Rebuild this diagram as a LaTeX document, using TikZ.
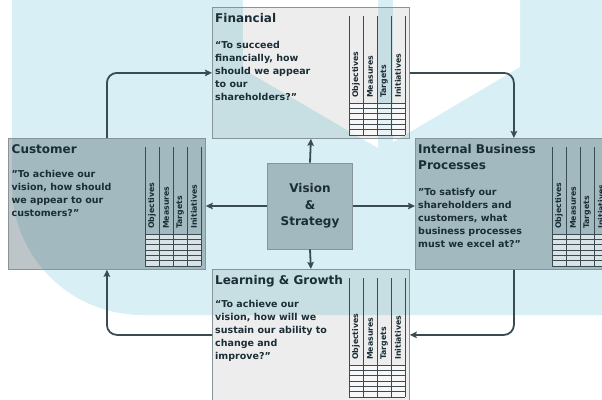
\documentclass[tikz,border=0pt]{standalone}
\usepackage{fontspec}
\setmainfont{DejaVu Sans}
\usetikzlibrary{arrows.meta}
\definecolor{wmblue}{RGB}{215,239,245}
\definecolor{inkdark}{RGB}{27,45,54}
\definecolor{linkdark}{RGB}{58,75,82}
\definecolor{boxslate}{RGB}{40,62,72}
\definecolor{rimgrey}{RGB}{135,148,152}
\tikzset{
	panel/.style={draw=rimgrey, line width=0.8pt, minimum width=197pt, minimum height=131pt, anchor=north west, inner sep=0pt},
	lightbox/.style={panel, fill=black, fill opacity=0.07},
	slatebox/.style={panel, fill=boxslate, fill opacity=0.3},
	boxtitle/.style={font=\fontsize{12}{16}\selectfont\bfseries, text=inkdark, anchor=base west, inner sep=0pt, align=left},
	boxquote/.style={font=\fontsize{9.5}{13}\selectfont\bfseries, text=inkdark, anchor=base west, inner sep=0pt, align=left},
	collabel/.style={font=\fontsize{7.8}{9}\selectfont\bfseries, text=inkdark, rotate=90, anchor=west, inner sep=0pt},
	gridline/.style={draw=linkdark, line width=0.5pt},
	link/.style={draw=linkdark, line width=1.8pt, rounded corners=10pt, -{Stealth[length=7pt,width=6.5pt,inset=1.2pt]}}
}
\begin{document}
\begin{tikzpicture}[x=1pt, y=-1pt]
	\useasboundingbox (0,0) rectangle (602,399);
	% Watermark behind the panels:
	\fill[wmblue, rounded corners=130pt] (12,-200) rectangle (800,315);
	\fill[white] (243,0) -- (378,0) -- (378,148) -- (243,69) -- cycle;
	\fill[white] (393,0) -- (520,0) -- (520,67) -- (393,142) -- cycle;
	% Panels:
	\node[lightbox] (fin) at (212,7){};
	\node[slatebox] (cus) at (8,138){};
	\node[slatebox] (int) at (415,138){};
	\node[lightbox] (lrn) at (212,269){};
	\node[slatebox, minimum width=85pt, minimum height=86pt, anchor=center, align=center, text=inkdark, text opacity=1, font=\fontsize{12}{16.5}\selectfont\bfseries] (vis) at (310,206){Vision\\\&\\Strategy};
	% Paths and arrows:
	\draw[link] (vis.north) -- (fin.south);
	\draw[link] (vis.south) -- (lrn.north);
	\draw[link] (vis.west) -- (vis.west -| cus.east);
	\draw[link] (vis.east) -- (vis.east -| int.west);
	\draw[link] (cus.north) |- (fin.west);
	\draw[link] (fin.east) -| (int.north);
	\draw[link] (int.south) |- (lrn.east);
	\draw[link] (lrn.west) -| (cus.south);
	% Tables:
	\foreach \bx in {fin,cus,int,lrn} {
		\begin{scope}[shift={(\bx.north west)}]
			\fill[white, fill opacity=0.6] (137,96) rectangle (193,128);
			\foreach \k in {0,...,4} \draw[gridline] (137+14*\k,9) -- (137+14*\k,128);
			\foreach \j in {0,...,6} \draw[gridline] (137,96+16*\j/3) -- (193,96+16*\j/3);
			\foreach \lab [count=\k] in {Objectives,Measures,Targets,Initiatives}
				\node[collabel] (\bx-col\k) at (130+14*\k,91){\lab};
		\end{scope}
	}
	% Texts (anchored at the baseline of their last line):
	\node[boxtitle] (fin-title) at (215,22.5){Financial};
	\node[boxquote] (fin-quote) at (215,100){“To succeed\\financially, how\\should we appear\\to our\\shareholders?”};
	\node[boxtitle] (cus-title) at (11.5,153.5){Customer};
	\node[boxquote] (cus-quote) at (11.5,216){"To achieve our\\vision, how should\\we appear to our\\customers?"};
	\node[boxtitle] (int-title) at (418,169.5){Internal Business\\Processes};
	\node[boxquote] (int-quote) at (418,247){"To satisfy our\\shareholders and\\customers, what\\business processes\\must we excel at?"};
	\node[boxtitle] (lrn-title) at (215,284.5){Learning \& Growth};
	\node[boxquote] (lrn-quote) at (215,359.5){“To achieve our\\vision, how will we\\sustain our ability to\\change and\\improve?”};
\end{tikzpicture}
\end{document}
